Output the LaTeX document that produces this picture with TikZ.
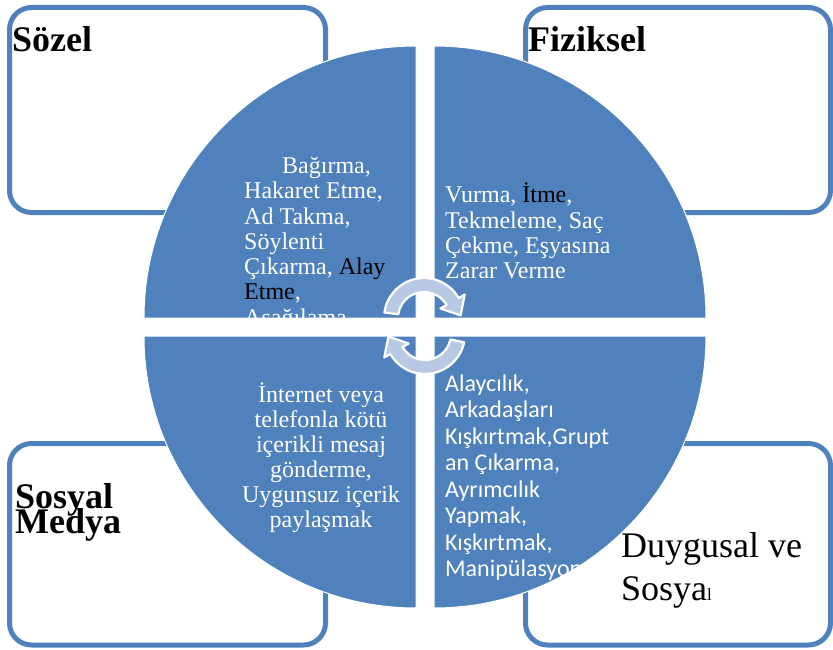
\documentclass[tikz,border=0pt]{standalone}
\usepackage{fontspec}
\setmainfont{Liberation Serif}
\newfontfamily\calib{Carlito}
\definecolor{qblue}{HTML}{4F81BD}
\definecolor{arrowfill}{HTML}{B9C9E3}
\begin{document}
\begin{tikzpicture}[x=1pt,y=-1pt,
  catbox/.style={draw=qblue,line width=5pt,fill=white,rounded corners=22pt},
  quad/.style={fill=qblue,draw=white,line width=1pt},
  qtext/.style={anchor=base west,inner sep=0pt,text=white,font=\fontsize{24}{25}\selectfont},
  qctext/.style={anchor=base,inner sep=0pt,text=white,font=\fontsize{24}{25}\selectfont},
  stext/.style={anchor=base west,inner sep=0pt,text=white,font=\calib\fontsize{24}{26}\selectfont},
  head/.style={anchor=base west,inner sep=0pt,font=\bfseries\fontsize{36}{36}\selectfont},
  plainhead/.style={anchor=base west,inner sep=0pt,font=\fontsize{36}{36}\selectfont},
  cyc/.style={fill=arrowfill,draw=white,line width=2.2pt,line join=round}]

\useasboundingbox (0,0) rectangle (833,650);

% category boxes
\draw[catbox] (9.5,7.5) rectangle (325.5,212.5);
\draw[catbox] (525.5,7.5) rectangle (830.5,212.5);
\draw[catbox] (9.5,443.5) rectangle (325.5,645);
\draw[catbox] (525.5,443.5) rectangle (830.5,645);

% quadrants
\path[quad] (416,318) -- (144,318) arc[start angle=180,end angle=90,radius=272pt] -- cycle;
\path[quad] (434,318) -- (434,46) arc[start angle=90,end angle=0,radius=272pt] -- cycle;
\path[quad] (416,336) -- (416,608) arc[start angle=270,end angle=180,radius=272pt] -- cycle;
\path[quad] (434,336) -- (706,336) arc[start angle=0,end angle=-90,radius=272pt] -- cycle;

% top-left text (clipped)
\begin{scope}
\clip (416,318) -- (144,318) arc[start angle=180,end angle=90,radius=272pt] -- cycle;
\node[qtext] (tl1) at (282,174) {Bağırma,};
\node[qtext] (tl2) at (244,199) {Hakaret Etme,};
\node[qtext] (tl3) at (244,224) {Ad Takma,};
\node[qtext] (tl4) at (244,249) {Söylenti};
\node[qtext] (tl5) at (244,274) {Çıkarma, \textcolor{black}{Alay}};
\node[qtext] (tl6) at (244,299) {\textcolor{black}{Etme},};
\node[qtext] (tl7) at (244,325) {Aşağılama};
\end{scope}

% top-right text
\node[qtext] (tr1) at (445,203) {Vurma, \textcolor{black}{İtme},};
\node[qtext] (tr2) at (445,228) {Tekmeleme, Saç};
\node[qtext] (tr3) at (445,253) {Çekme, Eşyasına};
\node[qtext] (tr4) at (445,278) {Zarar Verme};

% bottom-left text
\node[qctext] (bl1) at (321,402) {İnternet veya};
\node[qctext] (bl2) at (321,427) {telefonla kötü};
\node[qctext] (bl3) at (321,452) {içerikli mesaj};
\node[qctext] (bl4) at (321,477) {gönderme,};
\node[qctext] (bl5) at (321,502) {Uygunsuz içerik};
\node[qctext] (bl6) at (321,527) {paylaşmak};

% bottom-right text
\node[stext] (br1) at (445,391) {Alaycılık,};
\node[stext] (br2) at (445,417.5) {Arkadaşları};
\node[stext] (br3) at (445,444) {Kışkırtmak,Grupt};
\node[stext] (br4) at (445,470.5) {an Çıkarma,};
\node[stext] (br5) at (445,497) {Ayrımcılık};
\node[stext] (br6) at (445,523.5) {Yapmak,};
\node[stext] (br7) at (445,550) {Kışkırtmak,};
\node[stext] (br8) at (445,576.5) {Manipülasyon};

% cycle arrows
\coordinate (ca) at (424,318);
\coordinate (cb) at (425,334);
\path[cyc] ([shift={(ca)}]172:26pt) arc[start angle=172,end angle=30,radius=26pt]
  -- ([shift={(ca)}]30:19pt) -- ([shift={(ca)}]4:36.7pt) -- ([shift={(ca)}]30:47pt)
  -- ([shift={(ca)}]30:40pt) arc[start angle=30,end angle=172,radius=40pt] -- cycle;
\path[cyc] ([shift={(cb)}]-12:26pt) arc[start angle=-12,end angle=-150,radius=26pt]
  -- ([shift={(cb)}]-150:19pt) -- ([shift={(cb)}]-176:36.7pt) -- ([shift={(cb)}]-150:47pt)
  -- ([shift={(cb)}]-150:40pt) arc[start angle=-150,end angle=-12,radius=40pt] -- cycle;

% headings
\node[head] (sozel) at (12,52) {Sözel};
\node[head] (fiz) at (528,52) {Fiziksel};
\node[head] (sos) at (15,508) {Sosyal};
\node[head] (med) at (15,533) {Medya};
\node[plainhead] (duy) at (621,557) {Duygusal ve};
\node[plainhead] (sosy) at (621,600) {Sosya{\fontsize{17}{17}\selectfont l}};
\end{tikzpicture}
\end{document}
